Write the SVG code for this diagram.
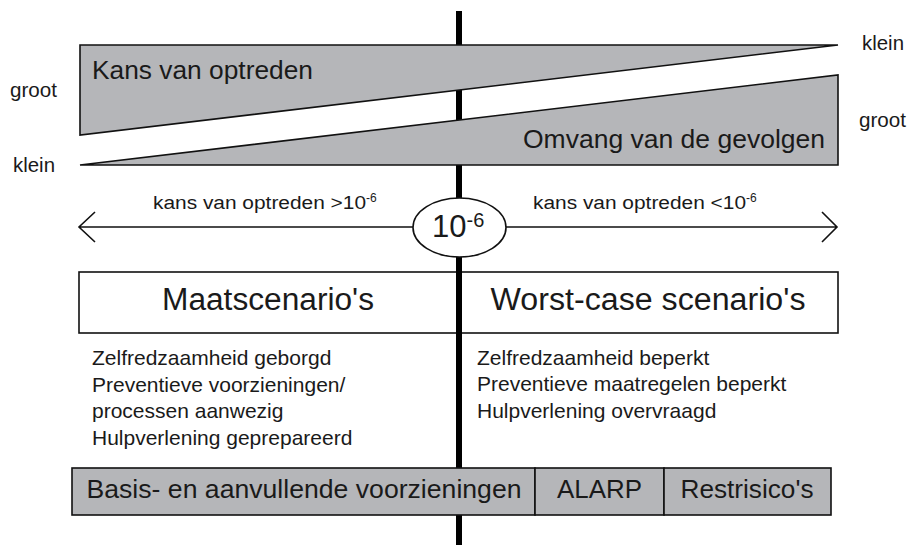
<svg xmlns="http://www.w3.org/2000/svg" width="909" height="545" viewBox="0 0 909 545">
<style>
text{font-family:"Liberation Sans",Arial,sans-serif;fill:#1a1a1a}
.g{fill:#b5b6b9;stroke:#111;stroke-width:1.6;stroke-linejoin:miter}
.w{fill:#fff;stroke:#111;stroke-width:1.6}
.ln{fill:none;stroke:#111;stroke-width:1.6}
.sm{font-size:20px}
.md{font-size:18px}
.li{font-size:21px}
.c{text-anchor:middle}
</style>
<rect width="909" height="545" fill="#fff"/>
<g id="scenarios">
<rect class="w" x="79" y="272" width="759" height="61"/>
<text class="c" x="268" y="310" font-size="31" textLength="212" lengthAdjust="spacingAndGlyphs">Maatscenario's</text>
<text class="c" x="648" y="310" font-size="31" textLength="315" lengthAdjust="spacingAndGlyphs">Worst-case scenario's</text>
</g>
<g id="divider">
<line x1="459" y1="11" x2="459" y2="545" stroke="#000" stroke-width="6"/>
</g>
<g id="kans">
<polygon class="g" points="80,45 838,45 80,135"/>
<text x="92" y="79" font-size="25" textLength="221" lengthAdjust="spacingAndGlyphs">Kans van optreden</text>
</g>
<g id="omvang">
<polygon class="g" points="80,165 838,75 838,165"/>
<text x="523" y="148" font-size="26" textLength="302" lengthAdjust="spacingAndGlyphs">Omvang van de gevolgen</text>
</g>
<g id="labels">
<text class="sm" x="10" y="97" textLength="47" lengthAdjust="spacingAndGlyphs">groot</text>
<text class="sm" x="13" y="172" textLength="42" lengthAdjust="spacingAndGlyphs">klein</text>
<text class="sm" x="862" y="50" textLength="42" lengthAdjust="spacingAndGlyphs">klein</text>
<text class="sm" x="859" y="127" textLength="47" lengthAdjust="spacingAndGlyphs">groot</text>
</g>
<g id="connectors">
<path class="ln" d="M413,227 H79 M95,212 L79,227 L95,242"/>
<path class="ln" d="M506,227 H837 M822,212 L837,227 L822,242"/>
</g>
<g id="arrow-labels">
<text class="md" x="153" y="209"><tspan textLength="213" lengthAdjust="spacingAndGlyphs">kans van optreden &gt;10</tspan><tspan dy="-7" font-size="12">-6</tspan></text>
<text class="md" x="533" y="209"><tspan textLength="213" lengthAdjust="spacingAndGlyphs">kans van optreden &lt;10</tspan><tspan dy="-7" font-size="12">-6</tspan></text>
</g>
<g id="threshold">
<ellipse class="w" cx="459.5" cy="227.5" rx="46.5" ry="29.5"/>
<text x="432" y="237" font-size="31">10<tspan dy="-10" font-size="20">-6</tspan></text>
</g>
<g id="maat-list">
<text class="li" x="92" y="365">Zelfredzaamheid geborgd</text>
<text class="li" x="92" y="392">Preventieve voorzieningen/</text>
<text class="li" x="92" y="418">processen aanwezig</text>
<text class="li" x="92" y="445">Hulpverlening geprepareerd</text>
</g>
<g id="worst-list">
<text class="li" x="477" y="365">Zelfredzaamheid beperkt</text>
<text class="li" x="477" y="391">Preventieve maatregelen beperkt</text>
<text class="li" x="477" y="418">Hulpverlening overvraagd</text>
</g>
<g id="measures">
<rect class="g" x="72" y="468" width="463" height="47" stroke-width="2"/>
<rect class="g" x="535" y="468" width="129" height="47" stroke-width="2"/>
<rect class="g" x="664" y="468" width="167" height="47" stroke-width="2"/>
<text class="c" x="304" y="498" font-size="26" textLength="435" lengthAdjust="spacingAndGlyphs">Basis- en aanvullende voorzieningen</text>
<text class="c" x="599.5" y="498" font-size="26" textLength="85" lengthAdjust="spacingAndGlyphs">ALARP</text>
<text class="c" x="747" y="498" font-size="26" textLength="133" lengthAdjust="spacingAndGlyphs">Restrisico's</text>
</g>
</svg>
